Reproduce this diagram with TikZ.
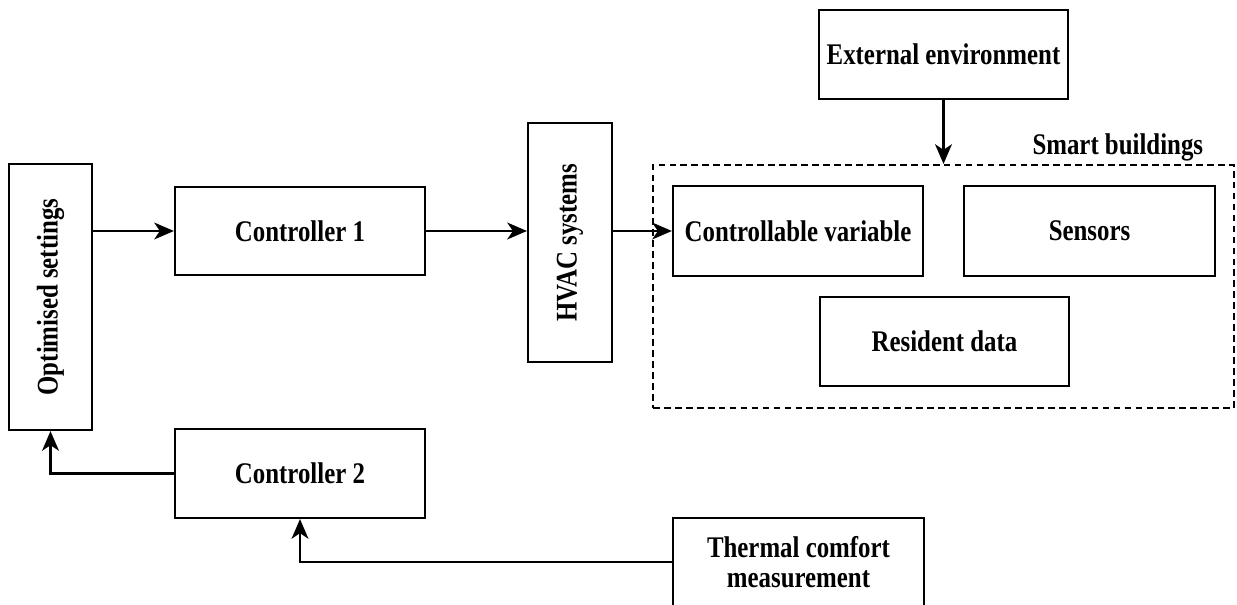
\documentclass[tikz,border=0pt]{standalone}
\usepackage{fontspec}
\setmainfont{Liberation Serif}[FakeStretch=0.83]
\usepackage{tikz}
\usetikzlibrary{arrows.meta}

\tikzset{
  box/.style={draw, line width=1.5pt, align=center, inner sep=2pt,
    font=\fontsize{21.3}{21.3}\selectfont\bfseries},
  zone/.style={draw, line width=1.5pt, dash pattern=on 4.8pt off 3pt},
  link/.style={line width=1.6pt, -{Stealth[length=14pt, width=12pt, inset=4pt]}}
}

\begin{document}
\begin{tikzpicture}[x=0.025cm, y=-0.025cm]
\useasboundingbox (0,0) rectangle (1237,605);

% loop on the left
\node[box, rotate=90, minimum width=6.65cm, minimum height=2.075cm] (opt) at (50.5,297) {Optimised settings};
\node[box, minimum width=6.25cm, minimum height=2.2cm] (ctrlA) at (300,231) {Controller 1};
\node[box, rotate=90, minimum width=5.975cm, minimum height=2.1cm] (hvac) at (570,242.5) {HVAC systems};
\node[box, minimum width=6.25cm, minimum height=2.225cm] (ctrlB) at (300,473.5) {Controller 2};

% building block
\node[zone, minimum width=14.525cm, minimum height=6.075cm] (sb) at (943.5,286.5) {};
\node[box, draw=none, anchor=base east] (sblabel) at (1207,154) {Smart buildings};
\node[box, minimum width=6.225cm, minimum height=2.225cm] (ext) at (943.5,54.5) {External environment};
\node[box, minimum width=6.25cm, minimum height=2.25cm] (cv) at (798,231) {Controllable variable};
\node[box, minimum width=6.275cm, minimum height=2.25cm] (sens) at (1089.5,231) {Sensors};
\node[box, minimum width=6.225cm, minimum height=2.225cm] (res) at (944.5,341.5) {Resident data};
\node[box, minimum width=6.275cm, minimum height=2.2cm] (tcm) at (798.5,562) {Thermal comfort\\measurement};

% arrows
\draw[link] (opt.south |- ctrlA.west) -- (ctrlA.west);
\draw[link] (ctrlA.east) -- (ctrlA.east -| hvac.north);
\draw[link] (hvac.south |- cv.west) -- (cv.west);
\draw[link] (ext.south) -- (sb.north);
\draw[link] (ctrlB.west) -| (opt.west);
\draw[link] (tcm.west) -| (ctrlB.south);
\end{tikzpicture}
\end{document}
